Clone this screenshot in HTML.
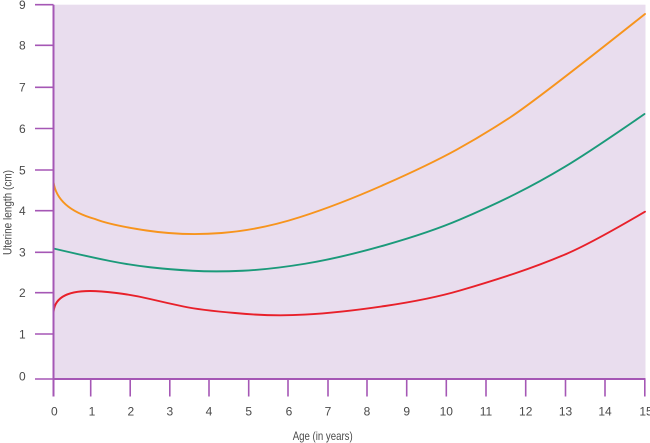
<!DOCTYPE html>
<html>
<head>
<meta charset="utf-8">
<style>
html,body{margin:0;padding:0;background:#ffffff;}
svg{display:block;}
text{font-family:"Liberation Sans",Arial,sans-serif;fill:#4a4a4a;}
</style>
</head>
<body>
<svg width="650" height="443" viewBox="0 0 650 443" xmlns="http://www.w3.org/2000/svg">
  <!-- plot background -->
  <rect x="54" y="4.7" width="591.5" height="374.3" fill="#e9ddee"/>

  <!-- curves -->
  <path d="M53.5,182 C56,200 70,212 95,219 Q110,225 146.5,230.5 Q183,236 221.5,233 Q260,230 300,217.15 Q340,204.3 385,184.3 Q430,164.3 456.65,149.65 Q483.3,135 510,117.5 Q536.7,100 645,14"
        fill="none" stroke="#f7941d" stroke-width="1.9" stroke-linecap="round"/>
  <path d="M53.5,248.5 Q90,257 110,261 Q130,265 150,267.25 Q170,269.5 192.5,270.75 Q215,272 242.5,270.75 Q270,269.5 305,263.75 Q340,258 385,245.15 Q430,232.3 460,219.5 Q490,206.7 515,194.2 Q540,181.7 565,166.7 Q590,151.7 644.5,114"
        fill="none" stroke="#1b9a7a" stroke-width="1.9" stroke-linecap="round"/>
  <path d="M53.5,314 C53.5,300 64,291 90,291 Q100,291 116.5,293 Q133,295 150,299 Q167,303 183.5,306.5 Q200,310 235,313 Q270,316.5 305,314.6 Q340,312.7 385,306 Q430,299.3 460,290.5 Q490,281.7 515,273.35 Q540,265 565,254.5 Q590,244 645,211.7"
        fill="none" stroke="#e8202a" stroke-width="1.9" stroke-linecap="round"/>

  <!-- axes -->
  <g stroke="#a557b5" fill="none">
    <line x1="53.5" y1="4.7" x2="53.5" y2="396.5" stroke-width="2"/>
    <line x1="53.5" y1="379" x2="645.5" y2="379" stroke-width="2"/>
    <!-- y ticks -->
    <g stroke-width="1.6">
      <line x1="35" y1="379" x2="53.5" y2="379"/>
      <line x1="35" y1="334" x2="53.5" y2="334"/>
      <line x1="35" y1="292.7" x2="53.5" y2="292.7"/>
      <line x1="35" y1="252.3" x2="53.5" y2="252.3"/>
      <line x1="35" y1="210.7" x2="53.5" y2="210.7"/>
      <line x1="35" y1="170" x2="53.5" y2="170"/>
      <line x1="35" y1="128.5" x2="53.5" y2="128.5"/>
      <line x1="35" y1="87.3" x2="53.5" y2="87.3"/>
      <line x1="35" y1="45.3" x2="53.5" y2="45.3"/>
      <line x1="35" y1="4.7" x2="53.5" y2="4.7"/>
    </g>
    <!-- x ticks -->
    <g stroke-width="1.6">
      <line x1="90.7" y1="379" x2="90.7" y2="396.5"/>
      <line x1="130.2" y1="379" x2="130.2" y2="396.5"/>
      <line x1="169.8" y1="379" x2="169.8" y2="396.5"/>
      <line x1="209" y1="379" x2="209" y2="396.5"/>
      <line x1="248.7" y1="379" x2="248.7" y2="396.5"/>
      <line x1="288" y1="379" x2="288" y2="396.5"/>
      <line x1="328" y1="379" x2="328" y2="396.5"/>
      <line x1="367" y1="379" x2="367" y2="396.5"/>
      <line x1="406.7" y1="379" x2="406.7" y2="396.5"/>
      <line x1="446.3" y1="379" x2="446.3" y2="396.5"/>
      <line x1="486" y1="379" x2="486" y2="396.5"/>
      <line x1="525.7" y1="379" x2="525.7" y2="396.5"/>
      <line x1="565.5" y1="379" x2="565.5" y2="396.5"/>
      <line x1="605" y1="379" x2="605" y2="396.5"/>
      <line x1="644.8" y1="379" x2="644.8" y2="396.5"/>
    </g>
  </g>

  <!-- y tick labels -->
  <g font-size="12" text-anchor="middle">
    <text x="22.3" y="380.5">0</text>
    <text x="22.3" y="338.3">1</text>
    <text x="22.3" y="297">2</text>
    <text x="22.3" y="256.6">3</text>
    <text x="22.3" y="215">4</text>
    <text x="22.3" y="174.3">5</text>
    <text x="22.3" y="132.8">6</text>
    <text x="22.3" y="91.6">7</text>
    <text x="22.3" y="49.6">8</text>
    <text x="22.3" y="9">9</text>
  </g>

  <!-- x tick labels -->
  <g font-size="12" text-anchor="middle">
    <text x="54.3" y="415.7">0</text>
    <text x="92" y="415.7">1</text>
    <text x="130.8" y="415.7">2</text>
    <text x="169.8" y="415.7">3</text>
    <text x="209" y="415.7">4</text>
    <text x="248.7" y="415.7">5</text>
    <text x="289" y="415.7">6</text>
    <text x="328" y="415.7">7</text>
    <text x="367" y="415.7">8</text>
    <text x="406.7" y="415.7">9</text>
    <text x="446.3" y="415.7">10</text>
    <text x="486" y="415.7">11</text>
    <text x="525.7" y="415.7">12</text>
    <text x="565.5" y="415.7">13</text>
    <text x="605" y="415.7">14</text>
    <text x="646" y="415.7">15</text>
  </g>

  <!-- axis titles -->
  <text x="322.7" y="440" font-size="12" text-anchor="middle" textLength="60" lengthAdjust="spacingAndGlyphs">Age (in years)</text>
  <text transform="translate(11.3,212.5) rotate(-90)" font-size="12" text-anchor="middle" textLength="85" lengthAdjust="spacingAndGlyphs">Uterine length (cm)</text>
</svg>
</body>
</html>
